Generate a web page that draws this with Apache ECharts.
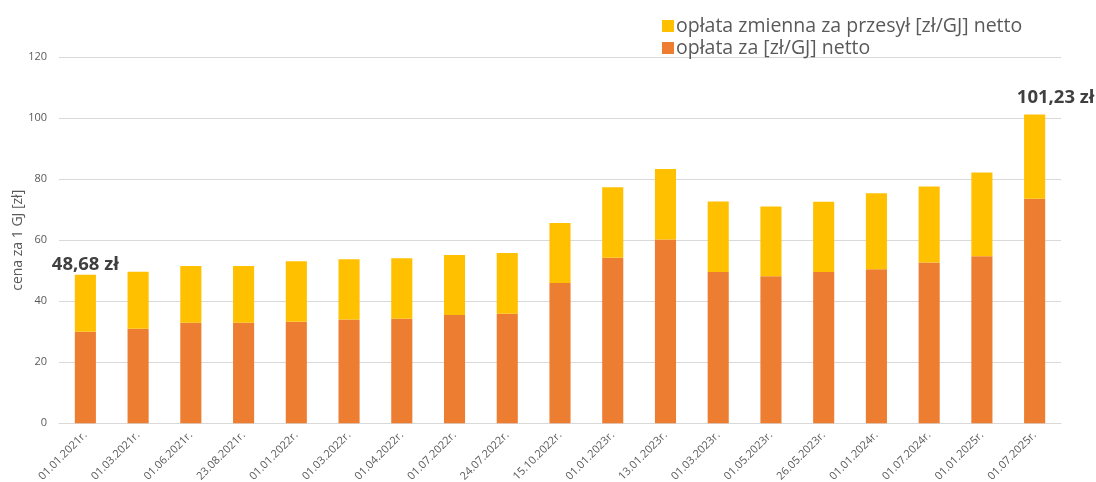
<!DOCTYPE html>
<html>
<head>
<meta charset="utf-8">
<script src="https://cdn.jsdelivr.net/npm/echarts@6/dist/echarts.min.js"></script>
<style>html,body{margin:0;padding:0;background:#fff}#c{width:1096px;height:482px}</style>
</head>
<body>
<div id="c"></div>
<script>
const categories = ['01.01.2021r.','01.03.2021r.','01.06.2021r.','23.08.2021r.','01.01.2022r.','01.03.2022r.','01.04.2022r.','01.07.2022r.','24.07.2022r.','15.10.2022r.','01.01.2023r.','13.01.2023r.','01.03.2023r.','01.05.2023r.','26.05.2023r.','01.01.2024r.','01.07.2024r.','01.01.2025r.','01.07.2025r.'];
const oplataZa = [30.0,31.0,33.0,33.0,33.3,34.0,34.3,35.5,35.9,46.0,54.3,60.3,49.6,48.2,49.6,50.5,52.7,54.8,73.6];
const oplataPrzesyl = [18.68,18.7,18.6,18.6,19.8,19.8,19.8,19.7,19.9,19.7,23.1,23.1,23.1,22.9,23.0,24.9,24.9,27.4,27.63];
const yTicks = [0,20,40,60,80,100,120];
const seriesNames = ['opłata zmienna za przesył [zł/GJ] netto','opłata za [zł/GJ] netto'];
const labelledIdx = {0:{offset:[0,0]}, 18:{offset:[21,-7]}};

const FONT = 'Open Sans';
const fmt = v => v.toFixed(2).replace('.', ',') + ' zł';

const yellowData = oplataPrzesyl.map((v,i) => {
  if (labelledIdx[i]) {
    const total = oplataZa[i] + v;
    return {value: v, label: {show: true, position: 'top', distance: 0, offset: labelledIdx[i].offset,
      formatter: () => fmt(total), fontFamily: FONT, fontWeight: 'bold', fontSize: 18.5, lineHeight: 20, color: '#404040'}};
  }
  return v;
});

const chart = echarts.init(document.getElementById('c'), null, {renderer: 'canvas'});
chart.setOption({
  animation: false,
  textStyle: {fontFamily: FONT},
  legend: {
    orient: 'vertical', left: 657, top: 11,
    itemWidth: 12, itemHeight: 12, itemGap: 2,
    icon: 'rect',
    data: [seriesNames[0], seriesNames[1]],
    textStyle: {fontFamily: FONT, fontSize: 19.5, lineHeight: 20, color: '#595959', padding: [0,0,0,-3]}
  },
  grid: {left: 59, right: 35, top: 57.3, bottom: 58.7, containLabel: false, outerBoundsMode: 'none'},
  xAxis: {
    type: 'category', data: categories,
    axisLine: {lineStyle: {color: '#d9d9d9', width: 1}},
    axisTick: {show: false},
    axisLabel: {rotate: 45, fontSize: 11, color: '#595959', fontFamily: FONT, interval: 0, margin: 10}
  },
  yAxis: {
    type: 'value', min: yTicks[0], max: yTicks[yTicks.length-1], interval: 20,
    name: 'cena za 1 GJ [zł]', nameLocation: 'middle', nameGap: 34, nameMoveOverlap: false,
    nameTextStyle: {fontSize: 14, color: '#595959', fontFamily: FONT},
    axisLine: {show: false}, axisTick: {show: false},
    axisLabel: {fontSize: 11, color: '#595959', fontFamily: FONT, margin: 12},
    splitLine: {lineStyle: {color: '#d9d9d9', width: 1}}
  },
  series: [
    {name: seriesNames[1], type: 'bar', stack: 'a', data: oplataZa, barCategoryGap: '60%',
      itemStyle: {color: '#ED7D31'}},
    {name: seriesNames[0], type: 'bar', stack: 'a', data: yellowData, barCategoryGap: '60%',
      itemStyle: {color: '#FFC000'}}
  ]
});
</script>
</body>
</html>
